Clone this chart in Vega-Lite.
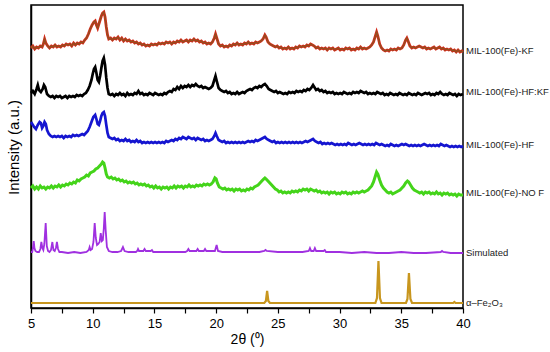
{
"$schema": "https://vega.github.io/schema/vega-lite/v6.json",
"autosize": {"type": "none"},
"width": 432,
"height": 303,
"padding": {"left": 31, "top": 5, "right": 87, "bottom": 44},
"background": "white",
"config": {"font": "Liberation Sans", "view": {"stroke": "black", "strokeWidth": 1.5}},
"encoding": {
  "x": {"field": "x", "type": "quantitative", "scale": {"domain": [5, 40], "nice": false},
    "axis": {"title": "2θ (⁰)", "values": [5, 7.5, 10, 12.5, 15, 17.5, 20, 22.5, 25, 27.5, 30, 32.5, 35, 37.5, 40],
      "labelExpr": "datum.value % 5 == 0 ? format(datum.value, 'd') : ''",
      "grid": false, "tickSize": 5, "tickColor": "black", "tickWidth": 1.2, "domainColor": "black", "domainWidth": 1.5,
      "labelFontSize": 13, "labelColor": "black", "labelPadding": 4, "labelFlush": false, "labelOverlap": false,
      "titleFontSize": 14, "titleFontWeight": "normal", "titleColor": "black", "titlePadding": 2}},
  "y": {"field": "y", "type": "quantitative", "scale": {"domain": [0, 303], "nice": false, "zero": false},
    "axis": {"title": "Intensity (a.u.)", "grid": false, "ticks": false, "labels": false, "tickSize": 0,
      "domainColor": "black", "domainWidth": 1.5, "titleFontSize": 15, "titleFontWeight": "normal",
      "titleColor": "black", "titlePadding": 10, "titleY": 142}}
},
"layer": [
{"data": {"values": [{"x":5,"y":5},{"x":10,"y":5},{"x":15,"y":5},{"x":20,"y":5},{"x":23.9,"y":5},{"x":24.03,"y":7},{"x":24.13,"y":17},{"x":24.23,"y":7},{"x":24.36,"y":5},{"x":28,"y":5},{"x":32.9,"y":5},{"x":33.03,"y":10},{"x":33.15,"y":47},{"x":33.27,"y":10},{"x":33.4,"y":5},{"x":35.38,"y":5},{"x":35.5,"y":9},{"x":35.62,"y":35},{"x":35.74,"y":9},{"x":35.87,"y":5},{"x":39.2,"y":5},{"x":39.3,"y":6},{"x":39.4,"y":5},{"x":40,"y":5}]},
 "mark": {"type": "line", "color": "#C8961E", "strokeWidth": 2.2}},
{"data": {"values": [{"x":5.0,"y":56},{"x":5.1,"y":56},{"x":5.16,"y":60},{"x":5.22,"y":67},{"x":5.28,"y":60},{"x":5.36,"y":57},{"x":5.5,"y":56},{"x":5.65,"y":56},{"x":5.76,"y":59},{"x":5.84,"y":66},{"x":5.92,"y":60},{"x":6.0,"y":58},{"x":6.08,"y":64},{"x":6.19,"y":85},{"x":6.28,"y":62},{"x":6.38,"y":57},{"x":6.5,"y":56},{"x":6.62,"y":58},{"x":6.73,"y":66},{"x":6.82,"y":58},{"x":6.92,"y":57},{"x":7.02,"y":60},{"x":7.1,"y":66},{"x":7.19,"y":59},{"x":7.3,"y":56},{"x":7.5,"y":56},{"x":8.0,"y":55},{"x":8.5,"y":56},{"x":9.0,"y":55},{"x":9.5,"y":56},{"x":9.68,"y":58},{"x":9.75,"y":61},{"x":9.83,"y":58},{"x":9.95,"y":59},{"x":10.06,"y":66},{"x":10.16,"y":85},{"x":10.25,"y":70},{"x":10.35,"y":63},{"x":10.45,"y":64},{"x":10.56,"y":66},{"x":10.65,"y":75},{"x":10.74,"y":67},{"x":10.82,"y":68},{"x":10.9,"y":80},{"x":10.97,"y":96},{"x":11.05,"y":78},{"x":11.15,"y":61},{"x":11.3,"y":57},{"x":11.6,"y":56},{"x":12.0,"y":56},{"x":12.3,"y":57},{"x":12.45,"y":61},{"x":12.58,"y":57},{"x":12.9,"y":56},{"x":13.5,"y":56},{"x":13.6,"y":57},{"x":13.67,"y":59},{"x":13.75,"y":57},{"x":14.1,"y":57},{"x":14.2,"y":59},{"x":14.3,"y":57},{"x":14.7,"y":57},{"x":14.8,"y":58},{"x":14.9,"y":56},{"x":15.5,"y":56},{"x":16.5,"y":56},{"x":17.5,"y":56},{"x":17.65,"y":57},{"x":17.75,"y":59},{"x":17.85,"y":57},{"x":18.4,"y":57},{"x":18.5,"y":59},{"x":18.6,"y":57},{"x":19.0,"y":57},{"x":19.1,"y":59},{"x":19.2,"y":57},{"x":19.9,"y":57},{"x":20.04,"y":63},{"x":20.15,"y":57},{"x":20.5,"y":56},{"x":21.5,"y":56},{"x":22.5,"y":56},{"x":23.5,"y":56},{"x":23.9,"y":57},{"x":24.0,"y":58},{"x":24.1,"y":57},{"x":25.0,"y":56},{"x":26.0,"y":56},{"x":27.0,"y":56},{"x":27.5,"y":57},{"x":27.6,"y":60},{"x":27.7,"y":57},{"x":27.9,"y":57},{"x":28.0,"y":60},{"x":28.1,"y":57},{"x":28.7,"y":57},{"x":28.8,"y":58},{"x":28.9,"y":56},{"x":30.0,"y":56},{"x":31.0,"y":55},{"x":32.0,"y":56},{"x":33.0,"y":55},{"x":34.0,"y":55},{"x":35.0,"y":56},{"x":36.0,"y":55},{"x":37.0,"y":55},{"x":38.2,"y":56},{"x":38.3,"y":57},{"x":38.4,"y":56},{"x":39.0,"y":55},{"x":40.0,"y":55}]},
 "mark": {"type": "line", "color": "#A030E0", "strokeWidth": 1.8}},
{"data": {"values": [{"x":5.0,"y":120},{"x":5.15,"y":122},{"x":5.3,"y":119},{"x":5.45,"y":121},{"x":5.6,"y":119},{"x":5.75,"y":122},{"x":5.9,"y":120},{"x":6.05,"y":121},{"x":6.2,"y":119},{"x":6.35,"y":121},{"x":6.5,"y":120},{"x":6.65,"y":122},{"x":6.8,"y":120},{"x":6.95,"y":122},{"x":7.1,"y":121},{"x":7.25,"y":123},{"x":7.4,"y":121},{"x":7.55,"y":123},{"x":7.7,"y":122},{"x":7.85,"y":124},{"x":8.0,"y":123},{"x":8.15,"y":125},{"x":8.3,"y":124},{"x":8.45,"y":126},{"x":8.6,"y":125},{"x":8.75,"y":128},{"x":8.9,"y":127},{"x":9.05,"y":129},{"x":9.2,"y":130},{"x":9.35,"y":131},{"x":9.5,"y":133},{"x":9.65,"y":132},{"x":9.8,"y":135},{"x":9.95,"y":136},{"x":10.1,"y":137},{"x":10.25,"y":139},{"x":10.4,"y":140},{"x":10.55,"y":142},{"x":10.7,"y":144},{"x":10.8,"y":146},{"x":10.9,"y":145},{"x":11.0,"y":140},{"x":11.1,"y":134},{"x":11.2,"y":131},{"x":11.35,"y":130},{"x":11.5,"y":131},{"x":11.65,"y":129},{"x":11.8,"y":130},{"x":11.95,"y":128},{"x":12.1,"y":129},{"x":12.25,"y":127},{"x":12.4,"y":128},{"x":12.55,"y":126},{"x":12.7,"y":127},{"x":12.85,"y":125},{"x":13.0,"y":126},{"x":13.15,"y":125},{"x":13.3,"y":126},{"x":13.45,"y":124},{"x":13.6,"y":125},{"x":13.75,"y":123},{"x":13.9,"y":124},{"x":14.05,"y":123},{"x":14.2,"y":124},{"x":14.35,"y":122},{"x":14.5,"y":123},{"x":14.65,"y":121},{"x":14.8,"y":122},{"x":14.95,"y":120},{"x":15.1,"y":122},{"x":15.25,"y":120},{"x":15.4,"y":121},{"x":15.55,"y":119},{"x":15.7,"y":121},{"x":15.85,"y":120},{"x":16.0,"y":121},{"x":16.15,"y":119},{"x":16.3,"y":121},{"x":16.45,"y":120},{"x":16.6,"y":122},{"x":16.75,"y":120},{"x":16.9,"y":122},{"x":17.05,"y":121},{"x":17.2,"y":122},{"x":17.35,"y":120},{"x":17.5,"y":122},{"x":17.65,"y":121},{"x":17.8,"y":123},{"x":17.95,"y":121},{"x":18.1,"y":122},{"x":18.25,"y":121},{"x":18.4,"y":123},{"x":18.55,"y":122},{"x":18.7,"y":123},{"x":18.85,"y":122},{"x":19.0,"y":124},{"x":19.15,"y":123},{"x":19.3,"y":124},{"x":19.45,"y":123},{"x":19.6,"y":124},{"x":19.75,"y":126},{"x":19.9,"y":130},{"x":20.0,"y":129},{"x":20.1,"y":125},{"x":20.25,"y":121},{"x":20.4,"y":120},{"x":20.55,"y":119},{"x":20.7,"y":120},{"x":20.85,"y":118},{"x":21.0,"y":119},{"x":21.15,"y":118},{"x":21.3,"y":119},{"x":21.45,"y":117},{"x":21.6,"y":119},{"x":21.75,"y":118},{"x":21.9,"y":119},{"x":22.05,"y":117},{"x":22.2,"y":118},{"x":22.35,"y":117},{"x":22.5,"y":119},{"x":22.65,"y":118},{"x":22.8,"y":120},{"x":22.95,"y":119},{"x":23.1,"y":121},{"x":23.25,"y":122},{"x":23.4,"y":123},{"x":23.55,"y":125},{"x":23.7,"y":127},{"x":23.85,"y":129},{"x":23.95,"y":130},{"x":24.05,"y":129},{"x":24.2,"y":127},{"x":24.35,"y":125},{"x":24.5,"y":123},{"x":24.65,"y":121},{"x":24.8,"y":119},{"x":24.95,"y":118},{"x":25.1,"y":116},{"x":25.25,"y":117},{"x":25.4,"y":115},{"x":25.55,"y":116},{"x":25.7,"y":115},{"x":25.85,"y":116},{"x":26.0,"y":115},{"x":26.15,"y":117},{"x":26.3,"y":116},{"x":26.45,"y":117},{"x":26.6,"y":116},{"x":26.75,"y":118},{"x":26.9,"y":117},{"x":27.05,"y":119},{"x":27.2,"y":118},{"x":27.35,"y":119},{"x":27.5,"y":117},{"x":27.65,"y":119},{"x":27.8,"y":118},{"x":27.95,"y":117},{"x":28.1,"y":118},{"x":28.25,"y":116},{"x":28.4,"y":117},{"x":28.55,"y":115},{"x":28.7,"y":116},{"x":28.85,"y":115},{"x":29.0,"y":116},{"x":29.15,"y":114},{"x":29.3,"y":116},{"x":29.45,"y":115},{"x":29.6,"y":116},{"x":29.75,"y":114},{"x":29.9,"y":115},{"x":30.05,"y":114},{"x":30.2,"y":116},{"x":30.35,"y":115},{"x":30.5,"y":116},{"x":30.65,"y":114},{"x":30.8,"y":115},{"x":30.95,"y":114},{"x":31.1,"y":116},{"x":31.25,"y":115},{"x":31.4,"y":116},{"x":31.55,"y":115},{"x":31.7,"y":116},{"x":31.85,"y":117},{"x":32.0,"y":116},{"x":32.15,"y":117},{"x":32.3,"y":118},{"x":32.45,"y":120},{"x":32.6,"y":122},{"x":32.75,"y":126},{"x":32.9,"y":132},{"x":33.0,"y":136},{"x":33.1,"y":134},{"x":33.25,"y":128},{"x":33.4,"y":123},{"x":33.55,"y":120},{"x":33.7,"y":118},{"x":33.85,"y":116},{"x":34.0,"y":115},{"x":34.15,"y":116},{"x":34.3,"y":114},{"x":34.45,"y":115},{"x":34.6,"y":116},{"x":34.75,"y":117},{"x":34.9,"y":118},{"x":35.05,"y":120},{"x":35.2,"y":122},{"x":35.35,"y":125},{"x":35.5,"y":127},{"x":35.6,"y":126},{"x":35.75,"y":123},{"x":35.9,"y":120},{"x":36.05,"y":118},{"x":36.2,"y":117},{"x":36.35,"y":116},{"x":36.5,"y":115},{"x":36.65,"y":116},{"x":36.8,"y":114},{"x":36.95,"y":116},{"x":37.1,"y":115},{"x":37.25,"y":116},{"x":37.4,"y":114},{"x":37.55,"y":115},{"x":37.7,"y":114},{"x":37.85,"y":116},{"x":38.0,"y":114},{"x":38.15,"y":115},{"x":38.3,"y":113},{"x":38.45,"y":115},{"x":38.6,"y":114},{"x":38.75,"y":115},{"x":38.9,"y":113},{"x":39.05,"y":114},{"x":39.2,"y":113},{"x":39.35,"y":114},{"x":39.5,"y":112},{"x":39.65,"y":114},{"x":39.8,"y":113},{"x":40.0,"y":113}]},
 "mark": {"type": "line", "color": "#44D41A", "strokeWidth": 3}},
{"data": {"values": [{"x":5.0,"y":186},{"x":5.1,"y":184},{"x":5.25,"y":181},{"x":5.4,"y":179},{"x":5.55,"y":183},{"x":5.7,"y":186},{"x":5.8,"y":185},{"x":5.9,"y":180},{"x":6.0,"y":182},{"x":6.1,"y":186},{"x":6.2,"y":184},{"x":6.3,"y":178},{"x":6.45,"y":174},{"x":6.6,"y":172},{"x":6.75,"y":171},{"x":6.9,"y":172},{"x":7.05,"y":171},{"x":7.2,"y":172},{"x":7.35,"y":171},{"x":7.5,"y":172},{"x":7.65,"y":170},{"x":7.8,"y":172},{"x":7.95,"y":171},{"x":8.1,"y":172},{"x":8.25,"y":171},{"x":8.4,"y":173},{"x":8.55,"y":172},{"x":8.7,"y":173},{"x":8.85,"y":172},{"x":9.0,"y":173},{"x":9.15,"y":174},{"x":9.3,"y":173},{"x":9.45,"y":175},{"x":9.6,"y":177},{"x":9.75,"y":181},{"x":9.9,"y":186},{"x":10.05,"y":191},{"x":10.2,"y":193},{"x":10.3,"y":189},{"x":10.4,"y":184},{"x":10.5,"y":183},{"x":10.6,"y":187},{"x":10.7,"y":192},{"x":10.8,"y":195},{"x":10.9,"y":196},{"x":11.0,"y":192},{"x":11.1,"y":183},{"x":11.2,"y":175},{"x":11.3,"y":171},{"x":11.45,"y":170},{"x":11.6,"y":169},{"x":11.75,"y":170},{"x":11.9,"y":168},{"x":12.05,"y":169},{"x":12.2,"y":167},{"x":12.35,"y":168},{"x":12.5,"y":167},{"x":12.65,"y":169},{"x":12.8,"y":167},{"x":12.95,"y":168},{"x":13.1,"y":166},{"x":13.25,"y":167},{"x":13.4,"y":166},{"x":13.55,"y":168},{"x":13.7,"y":166},{"x":13.85,"y":167},{"x":14.0,"y":165},{"x":14.15,"y":166},{"x":14.3,"y":165},{"x":14.45,"y":166},{"x":14.6,"y":165},{"x":14.75,"y":166},{"x":14.9,"y":165},{"x":15.05,"y":166},{"x":15.2,"y":165},{"x":15.35,"y":166},{"x":15.5,"y":165},{"x":15.65,"y":166},{"x":15.8,"y":165},{"x":15.95,"y":167},{"x":16.1,"y":166},{"x":16.25,"y":167},{"x":16.4,"y":168},{"x":16.55,"y":167},{"x":16.7,"y":169},{"x":16.85,"y":168},{"x":17.0,"y":170},{"x":17.15,"y":169},{"x":17.3,"y":171},{"x":17.45,"y":170},{"x":17.6,"y":169},{"x":17.75,"y":171},{"x":17.9,"y":170},{"x":18.05,"y":169},{"x":18.2,"y":170},{"x":18.35,"y":168},{"x":18.5,"y":170},{"x":18.65,"y":169},{"x":18.8,"y":168},{"x":18.95,"y":169},{"x":19.1,"y":167},{"x":19.25,"y":168},{"x":19.4,"y":167},{"x":19.55,"y":168},{"x":19.7,"y":169},{"x":19.85,"y":172},{"x":19.95,"y":175},{"x":20.05,"y":172},{"x":20.2,"y":168},{"x":20.35,"y":167},{"x":20.5,"y":166},{"x":20.65,"y":167},{"x":20.8,"y":165},{"x":20.95,"y":166},{"x":21.1,"y":165},{"x":21.25,"y":166},{"x":21.4,"y":165},{"x":21.55,"y":166},{"x":21.7,"y":165},{"x":21.85,"y":166},{"x":22.0,"y":165},{"x":22.15,"y":166},{"x":22.3,"y":165},{"x":22.45,"y":166},{"x":22.6,"y":167},{"x":22.75,"y":166},{"x":22.9,"y":167},{"x":23.05,"y":166},{"x":23.2,"y":168},{"x":23.35,"y":167},{"x":23.5,"y":168},{"x":23.65,"y":169},{"x":23.8,"y":170},{"x":23.95,"y":171},{"x":24.1,"y":169},{"x":24.25,"y":168},{"x":24.4,"y":167},{"x":24.55,"y":166},{"x":24.7,"y":167},{"x":24.85,"y":165},{"x":25.0,"y":166},{"x":25.15,"y":165},{"x":25.3,"y":166},{"x":25.45,"y":165},{"x":25.6,"y":166},{"x":25.75,"y":165},{"x":25.9,"y":166},{"x":26.05,"y":165},{"x":26.2,"y":166},{"x":26.35,"y":165},{"x":26.5,"y":166},{"x":26.65,"y":165},{"x":26.8,"y":166},{"x":26.95,"y":165},{"x":27.1,"y":166},{"x":27.25,"y":167},{"x":27.4,"y":166},{"x":27.55,"y":167},{"x":27.7,"y":168},{"x":27.85,"y":169},{"x":28.0,"y":167},{"x":28.15,"y":166},{"x":28.3,"y":165},{"x":28.45,"y":166},{"x":28.6,"y":164},{"x":28.75,"y":165},{"x":28.9,"y":164},{"x":29.05,"y":165},{"x":29.2,"y":164},{"x":29.35,"y":165},{"x":29.5,"y":164},{"x":29.65,"y":163},{"x":29.8,"y":164},{"x":29.95,"y":163},{"x":30.1,"y":164},{"x":30.25,"y":163},{"x":30.4,"y":164},{"x":30.55,"y":163},{"x":30.7,"y":165},{"x":30.85,"y":164},{"x":31.0,"y":163},{"x":31.15,"y":164},{"x":31.3,"y":163},{"x":31.45,"y":164},{"x":31.6,"y":165},{"x":31.75,"y":164},{"x":31.9,"y":163},{"x":32.05,"y":164},{"x":32.2,"y":163},{"x":32.35,"y":164},{"x":32.5,"y":163},{"x":32.65,"y":164},{"x":32.8,"y":163},{"x":32.95,"y":165},{"x":33.1,"y":164},{"x":33.25,"y":163},{"x":33.4,"y":164},{"x":33.55,"y":163},{"x":33.7,"y":162},{"x":33.85,"y":163},{"x":34.0,"y":162},{"x":34.15,"y":164},{"x":34.3,"y":163},{"x":34.45,"y":162},{"x":34.6,"y":163},{"x":34.75,"y":162},{"x":34.9,"y":163},{"x":35.05,"y":164},{"x":35.2,"y":163},{"x":35.35,"y":164},{"x":35.5,"y":163},{"x":35.65,"y":162},{"x":35.8,"y":163},{"x":35.95,"y":162},{"x":36.1,"y":163},{"x":36.25,"y":162},{"x":36.4,"y":163},{"x":36.55,"y":162},{"x":36.7,"y":163},{"x":36.85,"y":164},{"x":37.0,"y":163},{"x":37.15,"y":162},{"x":37.3,"y":163},{"x":37.45,"y":162},{"x":37.6,"y":163},{"x":37.75,"y":162},{"x":37.9,"y":163},{"x":38.05,"y":162},{"x":38.2,"y":164},{"x":38.35,"y":163},{"x":38.5,"y":162},{"x":38.65,"y":163},{"x":38.8,"y":162},{"x":38.95,"y":161},{"x":39.1,"y":162},{"x":39.25,"y":161},{"x":39.4,"y":162},{"x":39.55,"y":161},{"x":39.7,"y":162},{"x":39.85,"y":161},{"x":40.0,"y":162}]},
 "mark": {"type": "line", "color": "#1515D0", "strokeWidth": 2.7}},
{"data": {"values": [{"x":5.0,"y":215},{"x":5.15,"y":217},{"x":5.3,"y":214},{"x":5.45,"y":219},{"x":5.55,"y":223},{"x":5.65,"y":218},{"x":5.8,"y":216},{"x":5.95,"y":219},{"x":6.05,"y":223},{"x":6.15,"y":221},{"x":6.3,"y":214},{"x":6.45,"y":212},{"x":6.6,"y":211},{"x":6.75,"y":212},{"x":6.9,"y":210},{"x":7.05,"y":212},{"x":7.2,"y":211},{"x":7.35,"y":212},{"x":7.5,"y":210},{"x":7.65,"y":211},{"x":7.8,"y":212},{"x":7.95,"y":210},{"x":8.1,"y":212},{"x":8.25,"y":211},{"x":8.4,"y":212},{"x":8.55,"y":211},{"x":8.7,"y":213},{"x":8.85,"y":212},{"x":9.0,"y":213},{"x":9.15,"y":212},{"x":9.3,"y":214},{"x":9.45,"y":215},{"x":9.6,"y":218},{"x":9.75,"y":222},{"x":9.9,"y":228},{"x":10.0,"y":234},{"x":10.1,"y":239},{"x":10.2,"y":241},{"x":10.3,"y":235},{"x":10.4,"y":228},{"x":10.5,"y":226},{"x":10.6,"y":232},{"x":10.7,"y":240},{"x":10.8,"y":247},{"x":10.9,"y":250},{"x":11.0,"y":243},{"x":11.1,"y":230},{"x":11.2,"y":220},{"x":11.3,"y":214},{"x":11.45,"y":213},{"x":11.6,"y":214},{"x":11.75,"y":212},{"x":11.9,"y":214},{"x":12.05,"y":213},{"x":12.2,"y":215},{"x":12.35,"y":213},{"x":12.5,"y":214},{"x":12.65,"y":212},{"x":12.8,"y":215},{"x":12.95,"y":213},{"x":13.1,"y":214},{"x":13.25,"y":213},{"x":13.4,"y":215},{"x":13.55,"y":214},{"x":13.7,"y":217},{"x":13.85,"y":214},{"x":14.0,"y":215},{"x":14.15,"y":213},{"x":14.3,"y":214},{"x":14.45,"y":213},{"x":14.6,"y":215},{"x":14.75,"y":214},{"x":14.9,"y":213},{"x":15.05,"y":215},{"x":15.2,"y":214},{"x":15.35,"y":213},{"x":15.5,"y":214},{"x":15.65,"y":213},{"x":15.8,"y":215},{"x":15.95,"y":214},{"x":16.1,"y":216},{"x":16.25,"y":217},{"x":16.4,"y":216},{"x":16.55,"y":219},{"x":16.7,"y":218},{"x":16.85,"y":221},{"x":17.0,"y":219},{"x":17.15,"y":222},{"x":17.3,"y":220},{"x":17.45,"y":222},{"x":17.6,"y":221},{"x":17.75,"y":223},{"x":17.9,"y":221},{"x":18.05,"y":223},{"x":18.2,"y":222},{"x":18.35,"y":224},{"x":18.5,"y":222},{"x":18.65,"y":221},{"x":18.8,"y":222},{"x":18.95,"y":220},{"x":19.1,"y":221},{"x":19.25,"y":220},{"x":19.4,"y":219},{"x":19.55,"y":220},{"x":19.7,"y":222},{"x":19.85,"y":228},{"x":19.95,"y":232},{"x":20.05,"y":227},{"x":20.2,"y":220},{"x":20.35,"y":218},{"x":20.5,"y":217},{"x":20.65,"y":216},{"x":20.8,"y":217},{"x":20.95,"y":215},{"x":21.1,"y":216},{"x":21.25,"y":214},{"x":21.4,"y":215},{"x":21.55,"y":214},{"x":21.7,"y":216},{"x":21.85,"y":214},{"x":22.0,"y":215},{"x":22.15,"y":216},{"x":22.3,"y":215},{"x":22.45,"y":217},{"x":22.6,"y":218},{"x":22.75,"y":219},{"x":22.9,"y":218},{"x":23.05,"y":220},{"x":23.2,"y":221},{"x":23.35,"y":220},{"x":23.5,"y":222},{"x":23.65,"y":221},{"x":23.8,"y":223},{"x":23.95,"y":224},{"x":24.1,"y":222},{"x":24.25,"y":219},{"x":24.4,"y":218},{"x":24.55,"y":217},{"x":24.7,"y":216},{"x":24.85,"y":217},{"x":25.0,"y":215},{"x":25.15,"y":216},{"x":25.3,"y":215},{"x":25.45,"y":214},{"x":25.6,"y":215},{"x":25.75,"y":214},{"x":25.9,"y":216},{"x":26.05,"y":215},{"x":26.2,"y":216},{"x":26.35,"y":215},{"x":26.5,"y":217},{"x":26.65,"y":216},{"x":26.8,"y":217},{"x":26.95,"y":216},{"x":27.1,"y":218},{"x":27.25,"y":217},{"x":27.4,"y":219},{"x":27.55,"y":218},{"x":27.7,"y":220},{"x":27.85,"y":223},{"x":27.95,"y":221},{"x":28.1,"y":218},{"x":28.25,"y":219},{"x":28.4,"y":217},{"x":28.55,"y":218},{"x":28.7,"y":216},{"x":28.85,"y":217},{"x":29.0,"y":215},{"x":29.15,"y":216},{"x":29.3,"y":215},{"x":29.45,"y":216},{"x":29.6,"y":214},{"x":29.75,"y":215},{"x":29.9,"y":214},{"x":30.05,"y":215},{"x":30.2,"y":214},{"x":30.35,"y":216},{"x":30.5,"y":215},{"x":30.65,"y":214},{"x":30.8,"y":215},{"x":30.95,"y":214},{"x":31.1,"y":216},{"x":31.25,"y":215},{"x":31.4,"y":216},{"x":31.55,"y":215},{"x":31.7,"y":217},{"x":31.85,"y":216},{"x":32.0,"y":215},{"x":32.15,"y":216},{"x":32.3,"y":214},{"x":32.45,"y":215},{"x":32.6,"y":214},{"x":32.75,"y":215},{"x":32.9,"y":214},{"x":33.05,"y":216},{"x":33.2,"y":215},{"x":33.35,"y":214},{"x":33.5,"y":215},{"x":33.65,"y":213},{"x":33.8,"y":214},{"x":33.95,"y":213},{"x":34.1,"y":215},{"x":34.25,"y":214},{"x":34.4,"y":213},{"x":34.55,"y":214},{"x":34.7,"y":213},{"x":34.85,"y":215},{"x":35.0,"y":214},{"x":35.15,"y":213},{"x":35.3,"y":214},{"x":35.45,"y":213},{"x":35.6,"y":215},{"x":35.75,"y":214},{"x":35.9,"y":213},{"x":36.05,"y":214},{"x":36.2,"y":213},{"x":36.35,"y":215},{"x":36.5,"y":214},{"x":36.65,"y":213},{"x":36.8,"y":214},{"x":36.95,"y":215},{"x":37.1,"y":214},{"x":37.25,"y":215},{"x":37.4,"y":213},{"x":37.55,"y":214},{"x":37.7,"y":213},{"x":37.85,"y":215},{"x":38.0,"y":214},{"x":38.15,"y":216},{"x":38.3,"y":214},{"x":38.45,"y":213},{"x":38.6,"y":214},{"x":38.75,"y":213},{"x":38.9,"y":215},{"x":39.05,"y":214},{"x":39.2,"y":213},{"x":39.35,"y":214},{"x":39.5,"y":212},{"x":39.65,"y":214},{"x":39.8,"y":213},{"x":40.0,"y":214}]},
 "mark": {"type": "line", "color": "#000000", "strokeWidth": 2.7}},
{"data": {"values": [{"x":5.0,"y":260},{"x":5.15,"y":262},{"x":5.3,"y":259},{"x":5.45,"y":261},{"x":5.6,"y":260},{"x":5.75,"y":262},{"x":5.9,"y":261},{"x":6.0,"y":264},{"x":6.1,"y":269},{"x":6.2,"y":265},{"x":6.35,"y":262},{"x":6.5,"y":260},{"x":6.65,"y":262},{"x":6.8,"y":261},{"x":6.95,"y":263},{"x":7.1,"y":261},{"x":7.25,"y":262},{"x":7.4,"y":261},{"x":7.55,"y":263},{"x":7.7,"y":262},{"x":7.85,"y":264},{"x":8.0,"y":263},{"x":8.15,"y":264},{"x":8.3,"y":262},{"x":8.45,"y":265},{"x":8.6,"y":263},{"x":8.75,"y":265},{"x":8.9,"y":264},{"x":9.05,"y":266},{"x":9.2,"y":265},{"x":9.35,"y":268},{"x":9.5,"y":270},{"x":9.65,"y":274},{"x":9.8,"y":279},{"x":9.95,"y":283},{"x":10.1,"y":286},{"x":10.2,"y":287},{"x":10.3,"y":283},{"x":10.4,"y":280},{"x":10.5,"y":284},{"x":10.6,"y":288},{"x":10.7,"y":292},{"x":10.8,"y":295},{"x":10.9,"y":296},{"x":11.0,"y":291},{"x":11.1,"y":281},{"x":11.2,"y":273},{"x":11.3,"y":269},{"x":11.45,"y":270},{"x":11.6,"y":268},{"x":11.75,"y":270},{"x":11.9,"y":269},{"x":12.05,"y":271},{"x":12.2,"y":268},{"x":12.35,"y":270},{"x":12.5,"y":267},{"x":12.65,"y":269},{"x":12.8,"y":267},{"x":12.95,"y":268},{"x":13.1,"y":266},{"x":13.25,"y":267},{"x":13.4,"y":265},{"x":13.55,"y":266},{"x":13.7,"y":264},{"x":13.85,"y":265},{"x":14.0,"y":263},{"x":14.15,"y":264},{"x":14.3,"y":262},{"x":14.45,"y":263},{"x":14.6,"y":262},{"x":14.75,"y":264},{"x":14.9,"y":263},{"x":15.05,"y":264},{"x":15.2,"y":263},{"x":15.35,"y":265},{"x":15.5,"y":264},{"x":15.65,"y":265},{"x":15.8,"y":264},{"x":15.95,"y":266},{"x":16.1,"y":265},{"x":16.25,"y":266},{"x":16.4,"y":264},{"x":16.55,"y":266},{"x":16.7,"y":265},{"x":16.85,"y":267},{"x":17.0,"y":266},{"x":17.15,"y":268},{"x":17.3,"y":266},{"x":17.45,"y":267},{"x":17.6,"y":268},{"x":17.75,"y":266},{"x":17.9,"y":268},{"x":18.05,"y":267},{"x":18.2,"y":269},{"x":18.35,"y":267},{"x":18.5,"y":268},{"x":18.65,"y":266},{"x":18.8,"y":267},{"x":18.95,"y":265},{"x":19.1,"y":266},{"x":19.25,"y":264},{"x":19.4,"y":265},{"x":19.55,"y":264},{"x":19.7,"y":266},{"x":19.85,"y":270},{"x":19.95,"y":274},{"x":20.05,"y":270},{"x":20.2,"y":264},{"x":20.35,"y":262},{"x":20.5,"y":263},{"x":20.65,"y":261},{"x":20.8,"y":262},{"x":20.95,"y":261},{"x":21.1,"y":263},{"x":21.25,"y":262},{"x":21.4,"y":264},{"x":21.55,"y":263},{"x":21.7,"y":265},{"x":21.85,"y":263},{"x":22.0,"y":264},{"x":22.15,"y":263},{"x":22.3,"y":265},{"x":22.45,"y":264},{"x":22.6,"y":266},{"x":22.75,"y":264},{"x":22.9,"y":265},{"x":23.05,"y":264},{"x":23.2,"y":266},{"x":23.35,"y":265},{"x":23.5,"y":266},{"x":23.65,"y":267},{"x":23.8,"y":269},{"x":23.95,"y":273},{"x":24.05,"y":271},{"x":24.2,"y":266},{"x":24.35,"y":264},{"x":24.5,"y":263},{"x":24.65,"y":262},{"x":24.8,"y":261},{"x":24.95,"y":262},{"x":25.1,"y":260},{"x":25.25,"y":261},{"x":25.4,"y":259},{"x":25.55,"y":260},{"x":25.7,"y":259},{"x":25.85,"y":261},{"x":26.0,"y":259},{"x":26.15,"y":260},{"x":26.3,"y":259},{"x":26.45,"y":261},{"x":26.6,"y":260},{"x":26.75,"y":262},{"x":26.9,"y":261},{"x":27.05,"y":262},{"x":27.2,"y":261},{"x":27.35,"y":263},{"x":27.5,"y":262},{"x":27.65,"y":264},{"x":27.8,"y":263},{"x":27.95,"y":262},{"x":28.1,"y":260},{"x":28.25,"y":261},{"x":28.4,"y":259},{"x":28.55,"y":260},{"x":28.7,"y":259},{"x":28.85,"y":260},{"x":29.0,"y":258},{"x":29.15,"y":260},{"x":29.3,"y":259},{"x":29.45,"y":260},{"x":29.6,"y":258},{"x":29.75,"y":259},{"x":29.9,"y":260},{"x":30.05,"y":258},{"x":30.2,"y":259},{"x":30.35,"y":258},{"x":30.5,"y":260},{"x":30.65,"y":259},{"x":30.8,"y":260},{"x":30.95,"y":258},{"x":31.1,"y":259},{"x":31.25,"y":258},{"x":31.4,"y":260},{"x":31.55,"y":259},{"x":31.7,"y":261},{"x":31.85,"y":259},{"x":32.0,"y":260},{"x":32.15,"y":259},{"x":32.3,"y":260},{"x":32.45,"y":261},{"x":32.6,"y":263},{"x":32.75,"y":266},{"x":32.9,"y":272},{"x":33.0,"y":276},{"x":33.1,"y":272},{"x":33.25,"y":264},{"x":33.4,"y":260},{"x":33.55,"y":258},{"x":33.7,"y":257},{"x":33.85,"y":258},{"x":34.0,"y":257},{"x":34.15,"y":259},{"x":34.3,"y":258},{"x":34.45,"y":259},{"x":34.6,"y":258},{"x":34.75,"y":260},{"x":34.9,"y":259},{"x":35.05,"y":260},{"x":35.2,"y":263},{"x":35.35,"y":268},{"x":35.45,"y":270},{"x":35.55,"y":267},{"x":35.7,"y":262},{"x":35.85,"y":260},{"x":36.0,"y":261},{"x":36.15,"y":260},{"x":36.3,"y":261},{"x":36.45,"y":262},{"x":36.6,"y":261},{"x":36.75,"y":260},{"x":36.9,"y":261},{"x":37.05,"y":259},{"x":37.2,"y":260},{"x":37.35,"y":259},{"x":37.5,"y":260},{"x":37.65,"y":261},{"x":37.8,"y":259},{"x":37.95,"y":260},{"x":38.1,"y":261},{"x":38.25,"y":259},{"x":38.4,"y":260},{"x":38.55,"y":258},{"x":38.7,"y":259},{"x":38.85,"y":258},{"x":39.0,"y":259},{"x":39.15,"y":257},{"x":39.3,"y":258},{"x":39.45,"y":256},{"x":39.6,"y":258},{"x":39.75,"y":256},{"x":39.9,"y":257},{"x":40.0,"y":256}]},
 "layer": [
   {"mark": {"type": "line", "color": "#D42A1A", "strokeWidth": 2.8}},
   {"mark": {"type": "line", "color": "#8E5220", "strokeWidth": 1.2}}
 ]},
{"data": {"values": [{"t":"MIL-100(Fe)-KF","x":40,"y":257},{"t":"MIL-100(Fe)-HF:KF","x":40,"y":216},{"t":"MIL-100(Fe)-HF","x":40,"y":163},{"t":"MIL-100(Fe)-NO F","x":40,"y":115},{"t":"Simulated","x":40,"y":55},{"t":"α–Fe₂O₃","x":40,"y":5}]},
 "mark": {"type": "text", "align": "left", "baseline": "middle", "dx": 3, "fontSize": 9.5, "color": "#222222", "clip": false},
 "encoding": {"text": {"field": "t"}}}
]
}
